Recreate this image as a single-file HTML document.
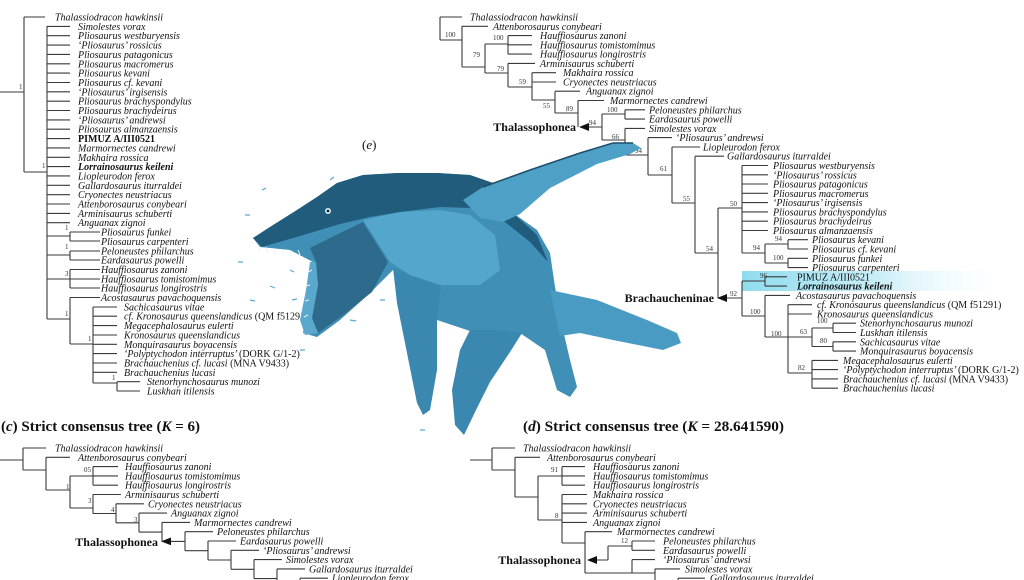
<!DOCTYPE html>
<html><head><meta charset="utf-8"><style>
html,body{margin:0;padding:0;background:#fff}
svg{display:block}
.t{font-family:"Liberation Serif",serif;font-style:italic;font-size:10px;fill:#111}
.r{font-style:normal}
.b{font-family:"Liberation Serif",serif;font-weight:bold;font-size:12px;fill:#111}
.n{font-family:"Liberation Serif",serif;font-size:7px;fill:#333}
.h{font-family:"Liberation Serif",serif;font-weight:bold;font-size:14.5px;fill:#111}
.ln{fill:none;stroke:#3a3a3a;stroke-width:1.1}
</style></head><body>
<svg width="1024" height="580" viewBox="0 0 1024 580" xmlns="http://www.w3.org/2000/svg">
<defs><linearGradient id="hl" x1="0" x2="1" y1="0" y2="0"><stop offset="0" stop-color="#8fdcef"/><stop offset="0.5" stop-color="#c9eef7"/><stop offset="1" stop-color="#fff" stop-opacity="0"/></linearGradient></defs>
<rect x="742" y="271" width="270" height="20" fill="url(#hl)"/>

<!-- (a) left tree -->
<path class="ln" d="M0 92H24M24 17V172M24 17H45M24 172H47M47 26V319
M47 26.4H70M47 35.7H70M47 45.1H70M47 54.4H70M47 63.8H70M47 73.1H70M47 82.5H70M47 91.8H70M47 101.2H70M47 110.5H70M47 119.9H70M47 129.2H70M47 138.6H70M47 147.9H70M47 157.3H70M47 166.6H70M47 175.9H70M47 185.3H70M47 194.7H70M47 204H70M47 213.4H70M47 222.7H70
M47 236H70M70 232V241M70 232H100M70 241H100
M47 255H70M70 251V260M70 251H100M70 260H100
M47 279H70M70 269.5V288M70 269.5H100M70 279H100M70 288H100
M47 319H70M70 297.5V344M70 297.5H100M70 344H93M93 307V383
M93 307H117M93 316.2H117M93 325.6H117M93 335H117M93 344.3H117M93 353.6H117M93 363H117M93 372.3H117
M93 383H117M117 381.7V391M117 381.7H140M117 391H140"/>
<text class="n" x="19" y="89">1</text><text class="n" x="42" y="168">1</text><text class="n" x="65" y="230">1</text><text class="n" x="65" y="249">1</text><text class="n" x="65" y="276">3</text><text class="n" x="65" y="316">1</text><text class="n" x="88" y="341">1</text><text class="n" x="112" y="380">1</text>
<g class="t">
<text x="55" y="20.5">Thalassiodracon hawkinsii</text>
<text x="78" y="29.9">Simolestes vorax</text>
<text x="78" y="39.2">Pliosaurus westburyensis</text>
<text x="78" y="48.6">‘Pliosaurus’ rossicus</text>
<text x="78" y="57.9">Pliosaurus patagonicus</text>
<text x="78" y="67.3">Pliosaurus macromerus</text>
<text x="78" y="76.6">Pliosaurus kevani</text>
<text x="78" y="86">Pliosaurus cf. kevani</text>
<text x="78" y="95.3">‘Pliosaurus’ irgisensis</text>
<text x="78" y="104.7">Pliosaurus brachyspondylus</text>
<text x="78" y="114">Pliosaurus brachydeirus</text>
<text x="78" y="123.4">‘Pliosaurus’ andrewsi</text>
<text x="78" y="132.7">Pliosaurus almanzaensis</text>
<text x="78" y="142.1" class="r" font-weight="bold">PIMUZ A/III0521</text>
<text x="78" y="151.4">Marmornectes candrewi</text>
<text x="78" y="160.8">Makhaira rossica</text>
<text x="78" y="170.1" font-weight="bold">Lorrainosaurus keileni</text>
<text x="78" y="179.4">Liopleurodon ferox</text>
<text x="78" y="188.8">Gallardosaurus iturraldei</text>
<text x="78" y="198.2">Cryonectes neustriacus</text>
<text x="78" y="207.5">Attenborosaurus conybeari</text>
<text x="78" y="216.9">Arminisaurus schuberti</text>
<text x="78" y="226.2">Anguanax zignoi</text>
<text x="101" y="235.6">Pliosaurus funkei</text>
<text x="101" y="244.9">Pliosaurus carpenteri</text>
<text x="101" y="254.3">Peloneustes philarchus</text>
<text x="101" y="263.6">Eardasaurus powelli</text>
<text x="101" y="273">Hauffiosaurus zanoni</text>
<text x="101" y="282.3">Hauffiosaurus tomistomimus</text>
<text x="101" y="291.7">Hauffiosaurus longirostris</text>
<text x="101" y="301">Acostasaurus pavachoquensis</text>
<text x="124" y="310.4">Sachicasaurus vitae</text>
<text x="124" y="319.7">cf. Kronosaurus queenslandicus <tspan class="r">(QM f51291)</tspan></text>
<text x="124" y="329.1">Megacephalosaurus eulerti</text>
<text x="124" y="338.4">Kronosaurus queenslandicus</text>
<text x="124" y="347.8">Monquirasaurus boyacensis</text>
<text x="124" y="357.1">‘Polyptychodon interruptus’ <tspan class="r">(DORK G/1-2)</tspan></text>
<text x="124" y="366.5">Brachauchenius cf. lucasi <tspan class="r">(MNA V9433)</tspan></text>
<text x="124" y="375.8">Brachauchenius lucasi</text>
<text x="147" y="385.2">Stenorhynchosaurus munozi</text>
<text x="147" y="394.5">Luskhan itilensis</text>
</g>

<!-- (b) right tree -->
<path class="ln" d="M440 17V40M440 17H462M440 40H462M462 26V67M462 26.3H488
M462 67H485M485 44V73M485 44H508M508 35.6V54.1M508 35.6H532M508 44.8H532M508 54.1H532
M485 73H508M508 63.4V87M508 63.4H535M508 87H532M532 72.7V100M532 72.7H556M532 82H556
M532 100H555M555 91.2V113M555 91.2H580M555 113H578M578 100.5V127M578 100.5H604
M588 127H602M602 114V140M602 114H625M625 109.8V119.1M625 109.8H645M625 119.1H645
M602 140H625M625 128.4V155M625 128.4H645M625 155H648M648 137.6V175M648 137.6H672M648 175H672M672 147V203M672 147H700M672 203H695M695 156.2V253M695 156.2H724M695 253H718M718 208V298M718 208H742M742 165.5V253
M742 165.5H768M742 174.8H768M742 184H768M742 193.3H768M742 202.6H768M742 211.9H768M742 221.2H768M742 230.5H768
M742 253H765M765 244V263M765 244H788M788 239.7V249M788 239.7H808M788 249H808M765 263H788M788 258.3V267.6M788 258.3H808M788 267.6H808
M726 298H742M742 281V316M742 281H765M765 276.8V286.1M765 276.8H787M765 286.1H787M742 316H765M765 295.4V337M765 295.4H790M765 337H812M788 304.7V373M788 304.7H812M788 314H812M812 328V346.5M812 328H833M833 323.2V332.5M833 323.2H856M833 332.5H856M812 346.5H833M833 341.8V351.1M833 341.8H856M833 351.1H856M788 373H812M812 360.4V388.2
M812 360.4H838M812 369.6H838M812 378.9H838M812 388.2H838"/>
<polygon points="579,127 589,123 589,131" fill="#111"/>
<polygon points="717,298 727,294 727,302" fill="#111"/>
<g class="n">
<text x="445" y="37">100</text><text x="493" y="40">100</text><text x="473" y="57">79</text><text x="497" y="71">79</text><text x="519" y="84">59</text><text x="543" y="108">55</text><text x="566" y="111">89</text><text x="589" y="125">94</text><text x="607" y="112">100</text><text x="612" y="139">66</text><text x="635" y="153">94</text><text x="660" y="171">61</text><text x="683" y="201">55</text><text x="706" y="251">54</text><text x="730" y="206">50</text><text x="775" y="241">94</text><text x="753" y="250">94</text><text x="773" y="260">100</text><text x="760" y="278">96</text><text x="730" y="296">92</text><text x="750" y="314">100</text><text x="771" y="336">100</text><text x="800" y="334">63</text><text x="817" y="323">100</text><text x="820" y="343">80</text><text x="798" y="370">82</text>
</g>
<text class="b" x="576" y="131" text-anchor="end">Thalassophonea</text>
<text class="b" x="714" y="302" text-anchor="end">Brachaucheninae</text>
<g class="t">
<text x="470" y="20.5">Thalassiodracon hawkinsii</text>
<text x="493" y="29.8">Attenborosaurus conybeari</text>
<text x="540" y="39.1">Hauffiosaurus zanoni</text>
<text x="540" y="48.3">Hauffiosaurus tomistomimus</text>
<text x="540" y="57.6">Hauffiosaurus longirostris</text>
<text x="540" y="66.9">Arminisaurus schuberti</text>
<text x="563" y="76.2">Makhaira rossica</text>
<text x="563" y="85.5">Cryonectes neustriacus</text>
<text x="586" y="94.7">Anguanax zignoi</text>
<text x="610" y="104">Marmornectes candrewi</text>
<text x="649" y="113.3">Peloneustes philarchus</text>
<text x="649" y="122.6">Eardasaurus powelli</text>
<text x="649" y="131.9">Simolestes vorax</text>
<text x="676" y="141.1">‘Pliosaurus’ andrewsi</text>
<text x="703" y="150.4">Liopleurodon ferox</text>
<text x="727" y="159.7">Gallardosaurus iturraldei</text>
<text x="773" y="169">Pliosaurus westburyensis</text>
<text x="773" y="178.3">‘Pliosaurus’ rossicus</text>
<text x="773" y="187.5">Pliosaurus patagonicus</text>
<text x="773" y="196.8">Pliosaurus macromerus</text>
<text x="773" y="206.1">‘Pliosaurus’ irgisensis</text>
<text x="773" y="215.4">Pliosaurus brachyspondylus</text>
<text x="773" y="224.7">Pliosaurus brachydeirus</text>
<text x="773" y="234">Pliosaurus almanzaensis</text>
<text x="812" y="243.2">Pliosaurus kevani</text>
<text x="812" y="252.5">Pliosaurus cf. kevani</text>
<text x="812" y="261.8">Pliosaurus funkei</text>
<text x="812" y="271.1">Pliosaurus carpenteri</text>
<text x="797" y="280.3" class="r">PIMUZ A/III0521</text>
<text x="797" y="289.6" font-weight="bold">Lorrainosaurus keileni</text>
<text x="796" y="298.9">Acostasaurus pavachoquensis</text>
<text x="817" y="308.2">cf. Kronosaurus queenslandicus <tspan class="r">(QM f51291)</tspan></text>
<text x="817" y="317.5">Kronosaurus queenslandicus</text>
<text x="860" y="326.7">Stenorhynchosaurus munozi</text>
<text x="860" y="336">Luskhan itilensis</text>
<text x="860" y="345.3">Sachicasaurus vitae</text>
<text x="860" y="354.6">Monquirasaurus boyacensis</text>
<text x="843" y="363.9">Megacephalosaurus eulerti</text>
<text x="843" y="373.1">‘Polyptychodon interruptus’ <tspan class="r">(DORK G/1-2)</tspan></text>
<text x="843" y="382.4">Brachauchenius cf. lucasi <tspan class="r">(MNA V9433)</tspan></text>
<text x="843" y="391.7">Brachauchenius lucasi</text>
</g>

<!-- titles -->
<text class="h" x="1" y="431" textLength="199" lengthAdjust="spacingAndGlyphs">(<tspan font-style="italic">c</tspan>) Strict consensus tree (<tspan font-style="italic">K</tspan> = 6)</text>
<text class="h" x="523" y="431" textLength="261" lengthAdjust="spacingAndGlyphs">(<tspan font-style="italic">d</tspan>) Strict consensus tree (<tspan font-style="italic">K</tspan> = 28.641590)</text>

<!-- (c) tree -->
<path class="ln" d="M0 460H23M23 448V470M23 448H46M23 470H46M46 457.3V490M46 457.3H70M46 490H70M70 476V508M70 476H93M93 466.6V485.2M93 466.6H118M93 475.9H118M93 485.2H118M70 508H93
M93 494.5V513.5M93 494.5H121M93 513.5H116
M116 503.8V522.8M116 503.8H144M116 522.8H139
M139 513.1V532.1M139 513.1H167M139 532.1H162
M162 522.4V541.4M162 522.4H190M170 541.4H185
M185 531.7V550.7M185 531.7H213M185 550.7H208
M208 541V560M208 541H236M208 560H231
M231 550.3V569.3M231 550.3H259M231 569.3H254
M254 559.6V578.6M254 559.6H282M254 578.6H277
M277 568.9V587.9M277 568.9H305M277 587.9H300
M300 578.2V597M300 578.2H328"/>
<polygon points="161,541.4 171,537.5 171,545.3" fill="#111"/>
<g class="n"><text x="84" y="472">05</text><text x="66" y="489">1</text><text x="88" y="503">3</text><text x="111" y="512">4</text><text x="134" y="522">3</text></g>
<text class="b" x="158" y="546" text-anchor="end">Thalassophonea</text>
<g class="t">
<text x="55" y="451.5">Thalassiodracon hawkinsii</text>
<text x="78" y="460.8">Attenborosaurus conybeari</text>
<text x="125" y="470.1">Hauffiosaurus zanoni</text>
<text x="125" y="479.4">Hauffiosaurus tomistomimus</text>
<text x="125" y="488.7">Hauffiosaurus longirostris</text>
<text x="125" y="498">Arminisaurus schuberti</text>
<text x="148" y="507.3">Cryonectes neustriacus</text>
<text x="171" y="516.6">Anguanax zignoi</text>
<text x="194" y="525.9">Marmornectes candrewi</text>
<text x="217" y="535.2">Peloneustes philarchus</text>
<text x="240" y="544.5">Eardasaurus powelli</text>
<text x="263" y="553.8">‘Pliosaurus’ andrewsi</text>
<text x="286" y="563.1">Simolestes vorax</text>
<text x="309" y="572.4">Gallardosaurus iturraldei</text>
<text x="332" y="581.7">Liopleurodon ferox</text>
</g>

<!-- (d) tree -->
<path class="ln" d="M470 460H492M492 448V470M492 448H515M492 470H515M515 457.3V497M515 457.3H540M515 497H538M538 476V520M538 476H562M562 466.6V485.2M562 466.6H585M562 475.9H585M562 485.2H585M538 520H562M562 494.5V543M562 494.5H587M562 503.8H587M562 513.1H587M562 522.4H587M562 543H585M585 531.7V573M585 531.7H612M597 560H608M608 546V560M608 546H632M632 541V550.3M632 541H655M632 550.3H655M585 573H632M632 559.6V573M632 559.6H655M632 573H655M655 568.9V585M655 568.9H680M655 585H678M678 578.2V592M678 578.2H705"/>
<polygon points="587,560 597,556 597,564" fill="#111"/>
<g class="n"><text x="551" y="472">91</text><text x="555" y="518">8</text><text x="621" y="543">12</text></g>
<text class="b" x="581" y="564" text-anchor="end">Thalassophonea</text>
<g class="t">
<text x="523" y="451.5">Thalassiodracon hawkinsii</text>
<text x="547" y="460.8">Attenborosaurus conybeari</text>
<text x="593" y="470.1">Hauffiosaurus zanoni</text>
<text x="593" y="479.4">Hauffiosaurus tomistomimus</text>
<text x="593" y="488.7">Hauffiosaurus longirostris</text>
<text x="593" y="498">Makhaira rossica</text>
<text x="593" y="507.3">Cryonectes neustriacus</text>
<text x="593" y="516.6">Arminisaurus schuberti</text>
<text x="593" y="525.9">Anguanax zignoi</text>
<text x="617" y="535.2">Marmornectes candrewi</text>
<text x="663" y="544.5">Peloneustes philarchus</text>
<text x="663" y="553.8">Eardasaurus powelli</text>
<text x="663" y="563.1">‘Pliosaurus’ andrewsi</text>
<text x="685" y="572.4">Simolestes vorax</text>
<text x="710" y="581.7">Gallardosaurus iturraldei</text>
</g>

<!-- (e) creature -->
<text x="362" y="149" font-family="Liberation Serif,serif" font-size="13" fill="#111">(<tspan font-style="italic">e</tspan>)</text>
<g>
<polygon fill="#3f8fb6" points="253,238 270,227 297,210 317,197 337,183 363,175 397,173 437,173 470,175 493,183 513,213 537,230 550,253 555,287 563,330 570,360 577,387 570,397 557,390 545,350 520,333 497,340 437,320 437,290 433,280 393,270 370,293 340,320 317,337 303,333 307,313 317,280 313,262 290,250 260,247"/>
<polygon fill="#225c7c" points="253,238 270,227 297,210 317,197 337,183 363,175 397,173 437,173 470,175 493,183 515,215 537,235 548,262 530,242 500,218 470,208 440,207 400,212 370,217 340,224 300,236 262,247"/>
<polygon fill="#4a9bc3" points="550,290 597,300 647,320 677,333 681,343 663,350 613,340 580,333 560,336"/>
<polygon fill="#3a88b0" points="393,268 397,303 407,353 417,403 423,415 430,410 437,370 437,320 441,285"/>
<polygon fill="#3a88b0" points="497,330 522,333 510,352 490,382 476,410 464,435 455,425 452,390 460,350 470,330"/>
<polygon fill="#2d6a8c" points="310,248 330,238 363,222 388,262 372,292 342,316 318,333 312,318 318,285 316,262"/>
<polygon fill="#5aa9cd" points="316,262 318,285 312,318 318,333 305,335 300,320 306,290 310,262"/>
<polygon fill="#55a6cc" points="363,220 400,212 440,210 470,215 495,235 500,270 480,285 440,285 410,275 390,262"/>
<polygon fill="#4fa0c7" points="463,200 483,187 530,170 580,153 613,143 633,143 641,148 630,154 597,164 550,188 520,214 503,222 480,218"/>
<polyline fill="none" stroke="#1d4f6b" stroke-width="1.5" points="483,187 530,170 580,153 613,143 633,143"/>
<circle cx="328" cy="211" r="3" fill="#d8eef6"/><circle cx="328" cy="211" r="1.4" fill="#123"/>
<path d="M258 247l2 5M266 247l2 6M274 248l1 6M282 249l2 6M290 250l1 6M298 250l2 5M312 270l-4 2M310 285l-4 1M309 300l-4 1M308 315l-4 2" stroke="#e8f4f8" stroke-width="1"/>
<path d="M245 215h5M262 190l4-2M238 262h5M270 286l5 2M292 300l5-1M300 350h5M350 320l6 1M380 300h5M420 430h5M330 180l4-3M250 300l5 1M290 270l4 2" stroke="#5aaad0" stroke-width="1.2"/>
</g>
</svg>
</body></html>
